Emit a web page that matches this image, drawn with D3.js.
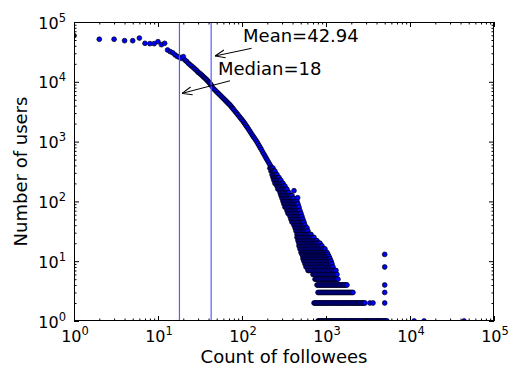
<!DOCTYPE html>
<html>
<head>
<meta charset="utf-8">
<script src="https://cdn.jsdelivr.net/npm/d3@7"></script>
<style>
body { margin: 0; background: #fff; }
svg { display: block; font-family: "DejaVu Sans", sans-serif; }
</style>
</head>
<body>
<svg id="chart"></svg>
<script>
// main part of the distribution: one point per followee count
const curveX = [1, 2, 3, 4, 5, 6, 7, 8, 9, 10, 11, 12, 13, 14, 15, 16, 17, 18, 19, 20, 21,
  22, 23, 24, 25, 26, 27, 28, 29, 30, 31, 32, 33, 34, 35, 36, 37, 38, 39, 40, 41, 42, 43, 44,
  46, 48, 50, 52, 54, 56, 58, 60, 62, 64, 66, 68, 70, 72, 74, 76, 78, 80, 83, 86, 89, 92, 95,
  98, 101, 104, 107, 110, 113, 116, 120, 124, 128, 132, 136, 140, 145, 150, 155, 160, 165,
  170, 176, 182, 188, 194, 200, 207, 214, 221, 228, 236, 244, 252, 260];
const curveY = [59000, 51500, 51500, 48700, 48700, 53900, 44000, 43400, 43400, 46800, 41800,
  44000, 34000, 31900, 30500, 28100, 26500, 25700, 24700, 26300, 23000,
  21800, 20400, 19300, 18400, 17600, 16800, 16000, 15300, 14500, 14000, 13500, 13000, 12500,
  12000, 11600, 11200, 10800, 10400, 10000, 9600, 9200, 8800, 8350,
  7640, 7210, 6800, 6440, 6120, 5810, 5540, 5280, 5040, 4820, 4610, 4420, 4250, 4090, 3900,
  3720, 3560, 3400, 3190, 3010, 2830, 2670, 2520, 2390, 2270, 2150, 2030, 1920, 1810, 1720,
  1600, 1490, 1390, 1300, 1220, 1150, 1070, 998, 921, 851, 791, 735, 670, 619, 572, 528, 490,
  450, 416, 384, 355, 326, 301, 278, 257];

// noisy tail: user counts, and the followee counts seen at each of them
const tailLevels = [360, 320, 280, 250, 225, 200, 180, 160, 140, 125, 112, 100, 90, 80, 70, 63,
  56, 50, 45, 40, 36, 32, 28, 25, 22, 20, 18, 16, 14, 13, 12, 11, 10, 9, 8, 7, 6, 5, 4, 3, 2, 1];
const tailX = [
  [215, 222, 228, 234],
  [222, 228, 234, 240, 247],
  [228, 234, 240, 247, 254, 261],
  [234, 240, 247, 254, 261, 268, 276],
  [240, 247, 254, 261, 268, 276, 284, 291],
  [247, 254, 261, 268, 276, 284, 291, 300, 308],
  [261, 268, 276, 284, 291, 300, 308, 316, 325],
  [268, 276, 284, 291, 300, 308, 316, 325, 334, 343],
  [284, 291, 300, 308, 316, 325, 334, 343, 353, 363],
  [291, 300, 308, 316, 325, 334, 343, 353, 363, 373, 383, 394],
  [300, 308, 316, 325, 334, 343, 353, 363, 373, 383, 394, 405, 416],
  [308, 316, 325, 334, 343, 353, 363, 373, 383, 394, 405, 416, 428, 439, 452],
  [316, 325, 334, 343, 353, 363, 373, 383, 394, 405, 416, 428, 439, 452, 464],
  [325, 334, 343, 353, 363, 373, 383, 394, 405, 416, 428, 439, 452, 464, 477],
  [343, 353, 363, 373, 383, 394, 405, 416, 428, 439, 452, 464, 477, 490],
  [353, 363, 373, 383, 394, 405, 416, 428, 439, 452, 464, 477, 490, 504],
  [373, 383, 394, 405, 416, 428, 439, 452, 464, 477, 490, 504, 518],
  [383, 394, 405, 416, 428, 439, 452, 464, 477, 490, 504, 518, 532],
  [394, 405, 416, 428, 439, 452, 464, 477, 490, 504, 518, 532, 547],
  [416, 428, 439, 452, 464, 477, 490, 504, 518, 532, 547, 562],
  [428, 439, 452, 464, 477, 490, 504, 518, 532, 547, 562, 578, 594],
  [439, 452, 464, 477, 490, 504, 518, 532, 547, 562, 578, 594, 610],
  [452, 464, 477, 490, 504, 518, 532, 547, 562, 578, 594, 610, 627, 645, 663],
  [452, 464, 477, 490, 504, 518, 532, 547, 562, 578, 594, 610, 627, 645, 663, 681, 700, 720],
  [464, 477, 490, 504, 518, 532, 547, 562, 578, 594, 610, 627, 645, 663, 681, 700, 720, 740,
   760, 781],
  [477, 490, 504, 518, 532, 547, 562, 578, 594, 610, 627, 645, 663, 681, 700, 720, 740, 760,
   781, 803, 825, 848],
  [477, 490, 504, 518, 532, 547, 562, 578, 594, 610, 627, 645, 663, 681, 700, 720, 740, 760,
   781, 803, 825, 848, 872, 896],
  [490, 504, 518, 532, 547, 562, 578, 594, 610, 627, 645, 663, 681, 700, 720, 740, 760, 781,
   803, 825, 848, 872, 896, 921, 947, 973],
  [504, 518, 532, 547, 562, 578, 594, 610, 627, 645, 663, 681, 700, 720, 740, 760, 781, 803,
   825, 848, 872, 896, 921, 947, 973, 1000, 1028],
  [518, 532, 547, 562, 578, 594, 610, 627, 645, 663, 681, 700, 720, 740, 760, 781, 803, 825,
   848, 872, 896, 921, 947, 973, 1000, 1028, 1056],
  [532, 547, 562, 578, 594, 610, 627, 645, 663, 681, 700, 720, 740, 760, 781, 803, 825, 848,
   872, 896, 921, 947, 973, 1000, 1028, 1056, 1086],
  [532, 547, 562, 578, 594, 610, 627, 645, 663, 681, 700, 720, 740, 760, 781, 803, 825, 848,
   872, 896, 921, 947, 973, 1000, 1028, 1056, 1086, 1116],
  [547, 562, 578, 594, 610, 627, 645, 663, 681, 700, 720, 740, 760, 781, 803, 825, 848, 872,
   896, 921, 947, 973, 1000, 1028, 1056, 1086, 1116, 1147],
  [562, 578, 594, 610, 627, 645, 663, 681, 700, 720, 740, 760, 781, 803, 825, 848, 872, 896,
   921, 947, 973, 1000, 1028, 1056, 1086, 1116, 1147, 1179],
  [578, 594, 610, 627, 645, 663, 681, 700, 720, 740, 760, 781, 803, 825, 848, 872, 896, 921,
   947, 973, 1000, 1028, 1056, 1086, 1116, 1147, 1179, 1212],
  [610, 627, 645, 663, 681, 700, 720, 740, 760, 781, 803, 825, 848, 872, 896, 921, 947, 973,
   1000, 1028, 1056, 1086, 1116, 1147, 1179, 1212, 1245, 1280, 1315],
  [700, 720, 740, 760, 781, 803, 825, 848, 872, 896, 921, 947, 973, 1000, 1028, 1056, 1086,
   1116, 1147, 1179, 1212, 1245, 1280, 1315, 1352],
  [740, 760, 781, 803, 825, 848, 872, 896, 921, 947, 973, 1000, 1028, 1056, 1086, 1116, 1147,
   1179, 1212, 1245, 1280, 1315, 1352, 1389],
  [781, 803, 825, 848, 872, 896, 921, 947, 973, 1000, 1028, 1056, 1086, 1116, 1147, 1179, 1212,
   1245, 1280, 1315, 1352, 1389, 1428, 1468, 1509, 1551, 1594, 1638, 1684, 1730, 1778],
  [803, 825, 848, 872, 896, 921, 947, 973, 1000, 1028, 1056, 1086, 1116, 1147, 1179, 1212,
   1245, 1280, 1315, 1352, 1389, 1428, 1468, 1509, 1551, 1594, 1638, 1684, 1730, 1778, 1828,
   1879, 1931, 1985, 2040, 2096],
  [720, 740, 760, 781, 803, 825, 848, 872, 896, 921, 947, 973, 1000, 1028, 1056, 1086, 1116,
   1147, 1179, 1212, 1245, 1280, 1315, 1352, 1389, 1428, 1468, 1509, 1551, 1594, 1638, 1684,
   1730, 1778, 1828, 1879, 1931, 1985, 2040, 2096, 2154, 2214, 2276, 2339, 2404, 2471, 2540,
   2610, 2683, 2757, 2834, 2913, 3340, 3627],
  [803, 825, 848, 872, 896, 921, 947, 973, 1000, 1028, 1056, 1086, 1116, 1147, 1179, 1212,
   1245, 1280, 1315, 1352, 1389, 1428, 1468, 1509, 1551, 1594, 1638, 1684, 1730, 1778, 1828,
   1879, 1931, 1985, 2040, 2096, 2154, 2214, 2276, 2339, 2404, 2471, 2540, 2610, 2683, 2757,
   2834, 2913, 2994, 3077, 3162, 3250, 3340, 3433, 3529, 3627, 3728, 3831, 3938, 4047, 4160,
   4276, 4394, 4516, 4642, 4771, 4903, 5039, 5179, 5323]
];

// stray points
const strayX = [416, 460, 1140, 5000, 5000, 5000, 5000, 5000, 11200, 14700, 44000];
const strayY = [151, 115, 10, 13, 8, 4, 3, 2, 1, 1, 1];

const meanValue = 42.94;
const medianValue = 18;

const tickValues = [1, 10, 100, 1000, 10000, 100000];
const tickExponents = ['0', '1', '2', '3', '4', '5'];
const xTitle = 'Count of followees';
const yTitle = 'Number of users';

const w = 511, h = 370;
const margin = { top: 22, right: 17, bottom: 49, left: 74 };

const svg = d3.select('#chart')
  .attr('width', w)
  .attr('height', h);

const x = d3.scaleLog().domain([1, 1e5]).range([margin.left, w - margin.right]);
const y = d3.scaleLog().domain([1, 1e5]).range([h - margin.bottom, margin.top]);

// gather points, drawn in order of followee count like the original
const points = [];
curveX.forEach((v, i) => points.push([v, curveY[i]]));
tailLevels.forEach((lvl, i) => tailX[i].forEach(v => points.push([v, lvl])));
strayX.forEach((v, i) => points.push([v, strayY[i]]));
points.sort((a, b) => a[0] - b[0]);

const defs = svg.append('defs');
defs.append('clipPath').attr('id', 'plot-clip')
  .append('rect')
  .attr('x', margin.left).attr('y', margin.top)
  .attr('width', w - margin.left - margin.right)
  .attr('height', h - margin.top - margin.bottom);

svg.append('g')
  .attr('clip-path', 'url(#plot-clip)')
  .selectAll('circle')
  .data(points)
  .join('circle')
  .attr('cx', d => x(d[0]))
  .attr('cy', d => y(d[1]))
  .attr('r', 2.4)
  .attr('fill', '#0000ff')
  .attr('stroke', '#000')
  .attr('stroke-width', 0.7);

// mean / median lines
svg.append('g').selectAll('line')
  .data([medianValue, meanValue])
  .join('line')
  .attr('x1', d => x(d)).attr('x2', d => x(d))
  .attr('y1', margin.top).attr('y2', h - margin.bottom)
  .attr('stroke', '#5a5aff')
  .attr('stroke-width', 1.2);

// ticks, inward on all four sides
const minorTicks = x.ticks().filter(v => !tickValues.includes(v));
const sides = [
  [d3.axisBottom, x, `translate(0,${h - margin.bottom})`],
  [d3.axisTop, x, `translate(0,${margin.top})`],
  [d3.axisLeft, y, `translate(${margin.left},0)`],
  [d3.axisRight, y, `translate(${w - margin.right},0)`]
];
sides.forEach(([axisFn, scale, tr]) => {
  svg.append('g').attr('transform', tr)
    .call(axisFn(scale).tickValues(tickValues).tickSize(-5).tickFormat(''))
    .call(g => g.select('.domain').remove());
  svg.append('g').attr('transform', tr)
    .call(axisFn(scale).tickValues(minorTicks).tickSize(-2.5).tickFormat(''))
    .call(g => g.select('.domain').remove());
});

svg.append('rect')
  .attr('x', margin.left + 0.5).attr('y', margin.top + 0.5)
  .attr('width', w - margin.left - margin.right - 1)
  .attr('height', h - margin.top - margin.bottom - 1)
  .attr('fill', 'none')
  .attr('stroke', '#000')
  .attr('stroke-width', 1);

// tick labels 10^n
function powerLabel(sel) {
  sel.each(function (d, i) {
    const t = d3.select(this);
    t.append('tspan').text('10');
    t.append('tspan').attr('dy', -7).attr('font-size', 11.5).text(tickExponents[i]);
  });
}
svg.append('g').selectAll('text')
  .data(tickValues)
  .join('text')
  .attr('x', d => x(d) + 1)
  .attr('y', h - margin.bottom + 20.5)
  .attr('text-anchor', 'middle')
  .attr('font-size', 16)
  .call(powerLabel);

svg.append('g').selectAll('text')
  .data(tickValues)
  .join('text')
  .attr('x', margin.left - 8)
  .attr('y', d => y(d) + 6.5)
  .attr('text-anchor', 'end')
  .attr('font-size', 16)
  .call(powerLabel);

// axis titles
svg.append('text')
  .attr('x', (margin.left + w - margin.right) / 2)
  .attr('y', 363)
  .attr('text-anchor', 'middle')
  .attr('font-size', 18)
  .text(xTitle);

svg.append('text')
  .attr('transform', `translate(27,${(margin.top + h - margin.bottom) / 2}) rotate(-90)`)
  .attr('text-anchor', 'middle')
  .attr('font-size', 18)
  .text(yTitle);

// annotations
defs.append('marker')
  .attr('id', 'arrow')
  .attr('viewBox', '0 0 10 10')
  .attr('refX', 10).attr('refY', 5)
  .attr('markerWidth', 10).attr('markerHeight', 10)
  .attr('markerUnits', 'userSpaceOnUse')
  .attr('orient', 'auto')
  .append('path')
  .attr('d', 'M0,1 L10,5 L0,9')
  .attr('fill', 'none')
  .attr('stroke', '#000')
  .attr('stroke-width', 1);

const notes = [
  { text: 'Mean=' + meanValue, tx: 103, ty: 46300, from: [130, 36300], to: [47.7, 27000] },
  { text: 'Median=' + medianValue, tx: 51.8, ty: 13000, from: [72, 10400], to: [19.3, 6400] }
];
notes.forEach(n => {
  svg.append('line')
    .attr('x1', x(n.from[0])).attr('y1', y(n.from[1]))
    .attr('x2', x(n.to[0])).attr('y2', y(n.to[1]))
    .attr('stroke', '#000')
    .attr('stroke-width', 1)
    .attr('marker-end', 'url(#arrow)');
  svg.append('text')
    .attr('x', x(n.tx)).attr('y', y(n.ty))
    .attr('font-size', 18)
    .text(n.text);
});
</script>
</body>
</html>
